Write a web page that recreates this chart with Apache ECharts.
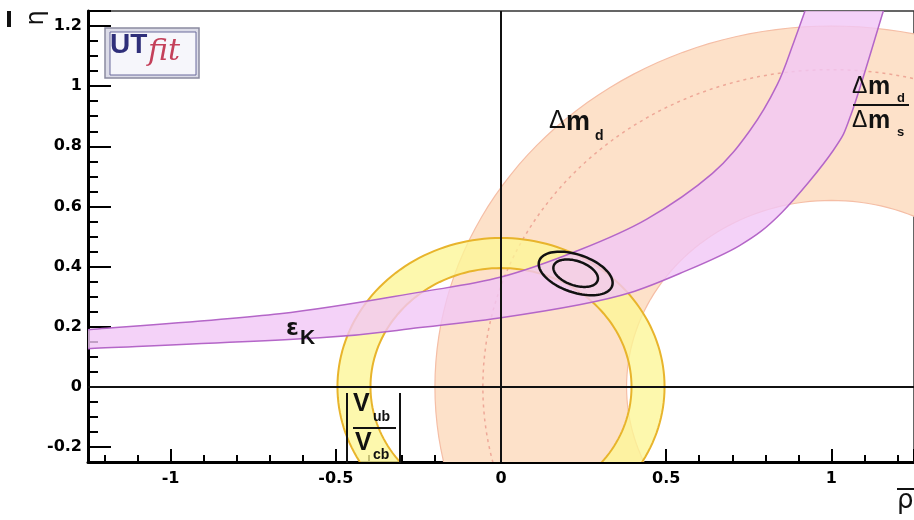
<!DOCTYPE html>
<html>
<head>
<meta charset="utf-8">
<script src="https://cdn.jsdelivr.net/npm/echarts@6/dist/echarts.min.js"></script>
<style>
html, body { margin: 0; padding: 0; background: #fff; }
#chart { width: 914px; height: 520px; }
</style>
</head>
<body>
<div id="chart"></div>
<script>
// rings: [rho centre, eta centre, inner radius, outer radius]
const dmdRing = [1.0, 0.0, 0.62, 1.2];
const vubRing = [0.0, 0.0, 0.395, 0.495];
// dashed central value of the dm_d ring: [rho, eta, radius]
const dmdCentral = [1.0, 0.0, 1.055];

// epsilon_K band edges [rho, eta]
const epsUpper = [[-1.25, 0.19], [-0.67, 0.243], [-0.245, 0.315], [0, 0.365], [0.237, 0.455], [0.44, 0.557],
  [0.64, 0.71], [0.755, 0.855], [0.836, 1.005], [0.885, 1.143], [0.921, 1.253]];
const epsLower = [[-1.25, 0.127], [-0.548, 0.163], [-0.245, 0.197], [0, 0.23], [0.237, 0.273], [0.39, 0.313],
  [0.541, 0.377], [0.722, 0.47], [0.85, 0.58], [1.006, 0.787], [1.064, 0.92], [1.158, 1.253]];

// fit contours: [rho, eta, semi-major, semi-minor, angle deg]
const fitContours = [[0.226, 0.377, 0.118, 0.062, -22], [0.226, 0.378, 0.071, 0.04, -22]];

const chart = echarts.init(document.getElementById('chart'));

const f2 = v => v.toFixed(2);

function circlePath(api, cx, cy, r, back) {
  let d = '';
  for (let i = 0; i <= 180; i++) {
    const t = (back ? -i : i) * Math.PI / 90;
    const p = api.coord([cx + r * Math.cos(t), cy + r * Math.sin(t)]);
    d += (i === 0 ? 'M' : 'L') + f2(p[0]) + ' ' + f2(p[1]);
  }
  return d + 'Z';
}

// smooth curve through pixel points (catmull-rom as cubic beziers)
function curvePath(pts, start) {
  let d = (start ? 'M' : 'L') + f2(pts[0][0]) + ' ' + f2(pts[0][1]);
  for (let i = 0; i < pts.length - 1; i++) {
    const p0 = pts[Math.max(i - 1, 0)], p1 = pts[i], p2 = pts[i + 1], p3 = pts[Math.min(i + 2, pts.length - 1)];
    d += 'C' + f2(p1[0] + (p2[0] - p0[0]) / 6) + ' ' + f2(p1[1] + (p2[1] - p0[1]) / 6) + ' '
      + f2(p2[0] - (p3[0] - p1[0]) / 6) + ' ' + f2(p2[1] - (p3[1] - p1[1]) / 6) + ' '
      + f2(p2[0]) + ' ' + f2(p2[1]);
  }
  return d;
}

function ringSeries(ring, fill, stroke, width) {
  return {
    type: 'custom',
    clip: true,
    silent: true,
    data: [ring],
    renderItem: (params, api) => {
      const cx = api.value(0), cy = api.value(1);
      return {
        type: 'path',
        shape: { pathData: circlePath(api, cx, cy, api.value(3), false) + circlePath(api, cx, cy, api.value(2), true) },
        style: { fill: fill, stroke: stroke, lineWidth: width }
      };
    }
  };
}

function txt(x, y, text, font) {
  return { type: 'text', x: x, y: y, z: 100, style: { text: text, font: font, fill: '#111' } };
}
function bar(x, y, w, h) {
  return { type: 'rect', z: 100, shape: { x: x, y: y, width: w, height: h }, style: { fill: '#111' } };
}

const font = 'DejaVu Sans';
const axisCommon = {
  type: 'value',
  axisLine: { show: true, onZero: false, lineStyle: { color: '#000', width: 3 } },
  splitLine: { show: false },
  axisLabel: { fontFamily: font, fontWeight: 'bold', fontSize: 16, color: '#000', showMinLabel: false, showMaxLabel: false },
};

chart.setOption({
  animation: false,
  grid: { left: 88, right: -1, top: 11, bottom: 58, show: true, borderColor: '#333', borderWidth: 1.5 },
  xAxis: Object.assign({}, axisCommon, {
    min: -1.25, max: 1.25, splitNumber: 5,
    axisTick: { inside: true, length: 13, lineStyle: { color: '#000', width: 2 } },
    minorTick: { show: true, splitNumber: 5, length: 7, lineStyle: { color: '#000', width: 2 } },
    axisLabel: Object.assign({}, axisCommon.axisLabel, { margin: 9 })
  }),
  yAxis: Object.assign({}, axisCommon, {
    min: -0.25, max: 1.25, splitNumber: 8,
    axisTick: { inside: true, length: 23, lineStyle: { color: '#000', width: 2 } },
    minorTick: { show: true, splitNumber: 4, length: 10, lineStyle: { color: '#000', width: 2 } },
    axisLabel: Object.assign({}, axisCommon.axisLabel, { margin: 6 })
  }),
  series: [
    ringSeries(dmdRing, '#fde1c9', '#f5bea6', 1.2),
    {
      type: 'custom', clip: true, silent: true,
      data: [dmdCentral],
      renderItem: (params, api) => ({
        type: 'path',
        shape: { pathData: circlePath(api, api.value(0), api.value(1), api.value(2), false) },
        style: { fill: 'none', stroke: '#eea898', lineWidth: 1.5, lineDash: [3, 4] }
      })
    },
    ringSeries(vubRing, 'rgba(253,246,150,0.78)', '#e8b42c', 2),
    {
      type: 'custom', clip: true, silent: true,
      data: [0],
      renderItem: (params, api) => {
        const up = epsUpper.map(p => api.coord(p));
        const lo = epsLower.map(p => api.coord(p));
        return {
          type: 'group',
          children: [
            { type: 'path', shape: { pathData: curvePath(up, true) + curvePath(lo.slice().reverse(), false) + 'Z' },
              style: { fill: 'rgba(241,199,246,0.8)' } },
            { type: 'path', shape: { pathData: curvePath(up, true) }, style: { fill: 'none', stroke: '#b466c8', lineWidth: 1.5 } },
            { type: 'path', shape: { pathData: curvePath(lo, true) }, style: { fill: 'none', stroke: '#b466c8', lineWidth: 1.5 } }
          ]
        };
      }
    },
    {
      type: 'custom', clip: true, silent: true,
      data: fitContours,
      renderItem: (params, api) => {
        const cx = api.value(0), cy = api.value(1), a = api.value(2), b = api.value(3);
        const ang = api.value(4) * Math.PI / 180;
        const pts = [];
        for (let i = 0; i < 90; i++) {
          const t = i * Math.PI / 45;
          const u = a * Math.cos(t), v = b * Math.sin(t);
          pts.push(api.coord([cx + u * Math.cos(ang) - v * Math.sin(ang), cy + u * Math.sin(ang) + v * Math.cos(ang)]));
        }
        return { type: 'polygon', shape: { points: pts }, style: { fill: 'none', stroke: '#111', lineWidth: 2.5 } };
      }
    },
    {
      type: 'line', data: [], silent: true,
      markLine: {
        symbol: 'none', silent: true, animation: false,
        label: { show: false },
        lineStyle: { color: '#111', width: 2, type: 'solid' },
        data: [{ xAxis: 0 }, { yAxis: 0 }]
      }
    }
  ],
  graphic: [
    // UTfit logo
    { type: 'rect', z: 100, shape: { x: 105, y: 28, width: 94, height: 50 }, style: { fill: '#dcdce8', stroke: '#8a8aa0', lineWidth: 1.5 } },
    { type: 'rect', z: 100, shape: { x: 110, y: 32, width: 86, height: 43 }, style: { fill: '#f6f6fb', stroke: '#6a6a9c', lineWidth: 1 } },
    { type: 'text', z: 100, x: 110, y: 31, style: { text: 'UT', font: 'bold 28px "Liberation Sans"', fill: '#2f2f7a' } },
    { type: 'text', z: 100, x: 148, y: 37, style: { text: 'fit', font: 'italic 30px "DejaVu Serif"', fill: '#c4405a' } },
    // axis titles
    bar(7, 11, 4, 16),
    { type: 'text', z: 100, x: 37, y: 18, rotation: Math.PI / 2, style: { text: 'η', font: '24px "DejaVu Sans"', fill: '#111', align: 'center', verticalAlign: 'middle' } },
    bar(897, 488, 17, 2),
    txt(897, 488, 'ρ', '26px "DejaVu Sans"'),
    // dm_d
    txt(549, 109, 'Δ', '25px "Liberation Sans"'),
    txt(566, 109, 'm', 'bold 27px "Liberation Sans"'),
    txt(595, 129, 'd', 'bold 14px "Liberation Sans"'),
    // dm_d / dm_s
    txt(852, 75, 'Δ', '23px "Liberation Sans"'),
    txt(868, 75, 'm', 'bold 25px "Liberation Sans"'),
    txt(897, 92, 'd', 'bold 13px "Liberation Sans"'),
    bar(853, 104, 56, 2),
    txt(852, 109, 'Δ', '23px "Liberation Sans"'),
    txt(868, 109, 'm', 'bold 25px "Liberation Sans"'),
    txt(897, 126, 's', 'bold 13px "Liberation Sans"'),
    // epsilon_K
    txt(286, 318, 'ε', 'bold 23px "DejaVu Sans"'),
    txt(300, 328, 'K', 'bold 21px "Liberation Sans"'),
    // |Vub/Vcb|
    bar(346, 393, 2, 70),
    bar(399, 393, 2, 70),
    txt(353, 392, 'V', 'bold 25px "Liberation Sans"'),
    txt(373, 410, 'ub', 'bold 14px "Liberation Sans"'),
    bar(353, 427, 43, 2),
    txt(355, 431, 'V', 'bold 25px "Liberation Sans"'),
    txt(373, 448, 'cb', 'bold 14px "Liberation Sans"')
  ]
});
</script>
</body>
</html>
